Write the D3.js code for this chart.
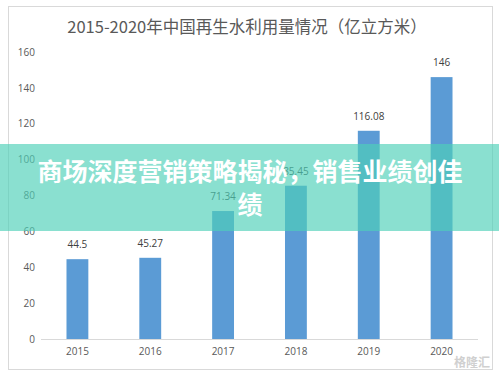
<!DOCTYPE html>
<html>
<head>
<meta charset="utf-8">
<script src="https://cdn.jsdelivr.net/npm/d3@7"></script>
<style>
  html, body { margin: 0; padding: 0; background: #fff; }
  svg { display: block; }
</style>
</head>
<body>
<div id="chart"></div>
<script>
// chart data
const years = ["2015", "2016", "2017", "2018", "2019", "2020"]
const volumes = [44.5, 45.27, 71.34, 85.45, 116.08, 146]
const yTicks = [0, 20, 40, 60, 80, 100, 120, 140, 160]

const title = "2015-2020年中国再生水利用量情况（亿立方米）"
const bannerLines = ["商场深度营销策略揭秘，销售业绩创佳", "绩"]

const width = 499
const height = 376
const margin = { top: 52, right: 21, bottom: 37, left: 41 }

const svg = d3.select("#chart")
  .append("svg")
  .attr("width", width)
  .attr("height", height)

// outer frame of the chart picture
svg.append("rect")
  .attr("x", 8.5)
  .attr("y", 6.5)
  .attr("width", 484)
  .attr("height", 363)
  .attr("fill", "#fff")
  .attr("stroke", "#d9d9d9")

svg.append("text")
  .attr("x", 247)
  .attr("y", 33)
  .attr("text-anchor", "middle")
  .attr("fill", "#595959")
  .attr("font-family", "'Noto Sans CJK SC', sans-serif")
  .attr("font-size", "16.5px")
  .text(title)

const x = d3.scaleBand()
  .domain(years)
  .range([margin.left, width - margin.right])
  .paddingInner(0.7)
  .paddingOuter(0.35)

const y = d3.scaleLinear()
  .domain([0, 160])
  .range([height - margin.bottom, margin.top])

// y axis labels, no line
const yAxis = svg.append("g")
  .attr("transform", `translate(${margin.left - 6},0)`)
  .call(d3.axisLeft(y).tickValues(yTicks).tickSize(0).tickPadding(0))
yAxis.select(".domain").remove()
yAxis.selectAll("text")
  .attr("fill", "#595959")
  .attr("font-family", "'Open Sans', sans-serif")
  .attr("font-size", "10px")

// x axis
const xAxis = svg.append("g")
  .attr("transform", `translate(0,${y(0)})`)
  .call(d3.axisBottom(x).tickSize(0).tickPadding(9))
xAxis.select(".domain").attr("stroke", "#d9d9d9").attr("d", `M${margin.left},0.5H${width - margin.right}`)
xAxis.selectAll("text")
  .attr("fill", "#595959")
  .attr("font-family", "'Open Sans', sans-serif")
  .attr("font-size", "10px")

// bars
svg.selectAll("rect.bar")
  .data(volumes)
  .join("rect")
  .attr("class", "bar")
  .attr("x", (d, i) => x(years[i]))
  .attr("y", d => y(d))
  .attr("width", x.bandwidth())
  .attr("height", d => y(0) - y(d))
  .attr("fill", "#5b9bd5")

// value labels
svg.selectAll("text.val")
  .data(volumes)
  .join("text")
  .attr("class", "val")
  .attr("x", (d, i) => x(years[i]) + x.bandwidth() / 2)
  .attr("y", d => y(d) - 11)
  .attr("text-anchor", "middle")
  .attr("fill", "#404040")
  .attr("font-family", "'Open Sans', sans-serif")
  .attr("font-size", "10px")
  .text(d => d)

// watermark
svg.append("text")
  .attr("x", 490)
  .attr("y", 367)
  .attr("text-anchor", "end")
  .attr("fill", "#d0d0d0")
  .attr("font-family", "'Noto Sans CJK SC', sans-serif")
  .attr("font-size", "12px")
  .attr("font-weight", "bold")
  .text("格隆汇")

// teal banner across the middle
svg.append("rect")
  .attr("x", 0)
  .attr("y", 144)
  .attr("width", width)
  .attr("height", 87)
  .attr("fill", "rgb(78,208,184)")
  .attr("fill-opacity", 0.66)

svg.selectAll("text.banner")
  .data(bannerLines)
  .join("text")
  .attr("class", "banner")
  .attr("x", 250)
  .attr("y", (d, i) => 181 + i * 33)
  .attr("text-anchor", "middle")
  .attr("fill", "#fff")
  .attr("font-family", "'Noto Sans CJK SC', sans-serif")
  .attr("font-size", "25px")
  .attr("font-weight", "bold")
  .text(d => d)
</script>
</body>
</html>
